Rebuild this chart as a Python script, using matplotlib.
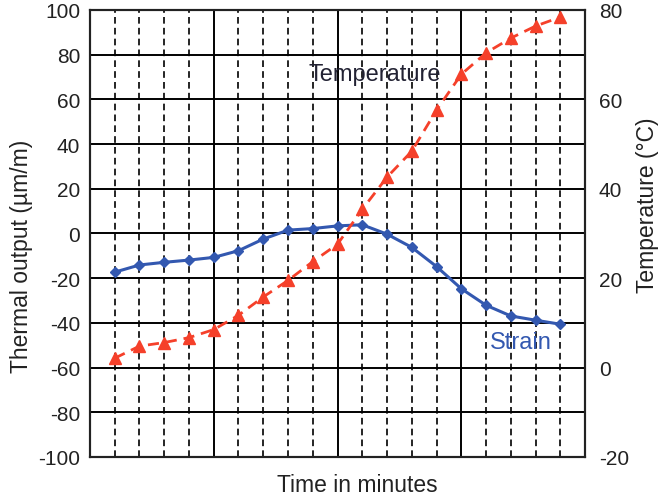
import matplotlib
matplotlib.use("Agg")
import matplotlib.pyplot as plt
from matplotlib.ticker import MultipleLocator

plt.rcParams['font.family'] = ['Liberation Sans', 'DejaVu Sans']
plt.rcParams['axes.unicode_minus'] = False

# time points (minutes)
minutes = list(range(1, 20))
# thermal output, left axis (um/m)
strain = [-17.3, -14.1, -12.9, -11.9, -10.7, -7.7, -2.5, 1.5, 2.2, 3.4,
          3.9, -0.3, -6.2, -14.8, -24.7, -32.1, -36.9, -38.8, -40.6]
# temperature, right axis (deg C)
temperature = [2.1, 4.8, 5.6, 6.7, 8.5, 11.7, 15.8, 19.5, 23.7, 27.6,
               35.4, 42.6, 48.4, 57.6, 65.6, 70.4, 73.7, 76.4, 78.4]

left_ticks = list(range(-100, 101, 20))
right_ticks = list(range(-20, 81, 20))

blue = '#3358b0'
red = '#f5402a'

fig = plt.figure(figsize=(6.63, 5.02), dpi=100)
ax = fig.add_axes([0.1357, 0.0877, 0.7467, 0.8904])
ax2 = ax.twinx()

ax.set_xlim(0, 20)
ax.set_ylim(-100, 100)
ax2.set_ylim(-20, 80)

ax.xaxis.set_major_locator(MultipleLocator(5))
ax.xaxis.set_minor_locator(MultipleLocator(1))
ax.set_yticks(left_ticks)
ax2.set_yticks(right_ticks)

# grid: dashed every minute, solid every 5 and every 20 um/m
ax.grid(which='minor', axis='x', color='black', linestyle=(0, (4, 2.5)), linewidth=1.2)
ax.grid(which='major', axis='x', color='black', linestyle='-', linewidth=1.4)
ax.grid(which='major', axis='y', color='black', linestyle='-', linewidth=1.4)
ax.set_axisbelow(True)

ax.tick_params(axis='x', which='both', length=0, labelbottom=False)
ax.tick_params(axis='y', length=0, pad=7, labelsize=15, labelcolor='#222222')
ax2.tick_params(axis='y', length=0, pad=10, labelsize=15, labelcolor='#222222')

for a in (ax, ax2):
    for s in a.spines.values():
        s.set_linewidth(1.5)
        s.set_color('#222222')

ax.plot(minutes, strain, color=blue, linewidth=2.2, marker='D', markersize=5.5, zorder=5)
ax2.plot(minutes, temperature, color=red, linewidth=2.0, linestyle=(0, (4, 2.5)),
         marker='^', markersize=9, zorder=5)

ax.text(11.5, 71.5, 'Temperature', fontsize=17, color='#222233', ha='center', va='center')
ax.text(17.4, -48.4, 'Strain', fontsize=17, color=blue, ha='center', va='center')

ax.set_xlabel('Time in minutes', fontsize=16.5, color='#222222')
ax.xaxis.set_label_coords(0.541, -0.035)
ax.set_ylabel('Thermal output (\u00b5m/m)', fontsize=16.5, color='#222222')
ax.yaxis.set_label_coords(-0.115, 0.45)
ax2.set_ylabel('Temperature (\u00b0C)', fontsize=16.5, color='#222222')
ax2.yaxis.set_label_coords(1.103, 0.565)

fig.savefig('out.png', dpi=100)
